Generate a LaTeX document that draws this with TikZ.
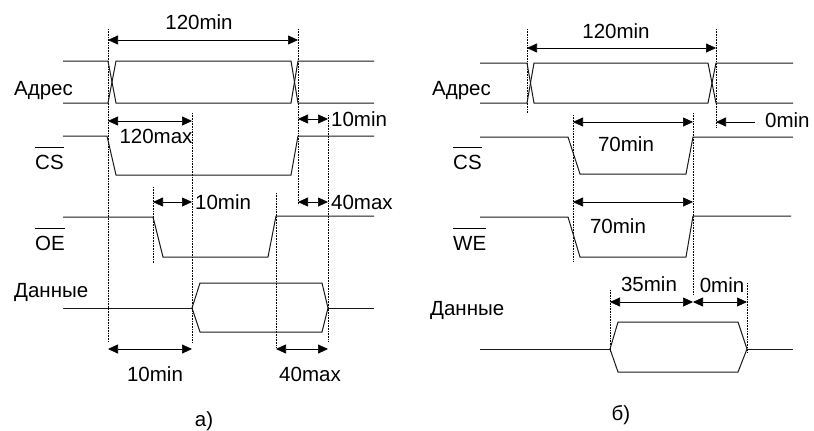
\documentclass[tikz,border=0pt]{standalone}
\usepackage{fontspec}
\setmainfont{Liberation Sans}
\usetikzlibrary{arrows.meta}
\newcommand{\negsig}[1]{\leavevmode\vbox{\hrule height 0.8pt\kern 7pt\hbox{#1}}}

\begin{document}
\begin{tikzpicture}[x=1pt,y=-1pt,
    sig/.style={line width=1pt, draw=black!90},
    guide/.style={densely dotted, line width=0.6pt},
    dim/.style={{Triangle[length=10pt,width=9pt]}-{Triangle[length=10pt,width=9pt]}, line width=0.7pt},
    lbl/.style={font=\fontsize{20.5}{23}\selectfont, inner sep=0pt}]
    \useasboundingbox (0,0) rectangle (814,431);

    % --- a) read cycle
    \draw[guide] (108,29) -- (108,342);
    \draw[guide] (298,29) -- (298,205);
    \draw[guide] (192,113) -- (192,342);
    \draw[guide] (328,115) -- (328,342);
    \draw[guide] (153,187) -- (153,263);
    \draw[guide] (276,193) -- (276,348);

    \draw[sig] (63,61) -- (108,61) -- (116,103) -- (291,103) -- (298,61) -- (374,61);
    \draw[sig] (63,103) -- (108,103) -- (116,61) -- (291,61) -- (298,103) -- (374,103);
    \draw[sig] (63,136) -- (107,136) -- (116,175) -- (291,175) -- (298,136) -- (374,136);
    \draw[sig] (63,217) -- (153,217) -- (163,257) -- (268,257) -- (276,216) -- (374,216);
    \draw[sig] (63,308) -- (192,308);
    \draw[sig] (192,308) -- (200,283) -- (322,283) -- (328,308) -- (322,332) -- (200,332) -- cycle;
    \draw[sig] (328,308) -- (374,308);

    \coordinate (a1) at (108,40);  \coordinate (a2) at (298,40);
    \coordinate (b1) at (108,121); \coordinate (b2) at (192,121);
    \coordinate (c1) at (298,119); \coordinate (c2) at (328,119);
    \coordinate (d1) at (153,202); \coordinate (d2) at (192,202);
    \coordinate (e1) at (298,202); \coordinate (e2) at (328,202);
    \coordinate (f1) at (108,349); \coordinate (f2) at (192,349);
    \coordinate (g1) at (276,349); \coordinate (g2) at (328,349);
    \draw[dim] (a1) -- (a2);
    \draw[dim] (b1) -- (b2);
    \draw[dim] (c1) -- (c2);
    \draw[dim] (d1) -- (d2);
    \draw[dim] (e1) -- (e2);
    \draw[dim] (f1) -- (f2);
    \draw[dim] (g1) -- (g2);

    \node[lbl, anchor=base west] (addrA) at (14,95) {Адрес};
    \node[lbl, anchor=base west] (csA) at (35,169) {\negsig{CS}};
    \node[lbl, anchor=base west] (oeA) at (35,250.5) {\negsig{OE}};
    \node[lbl, anchor=base west] (dataA) at (14,297) {Данные};
    \node[lbl] (tA1) at (199,22) {120min};
    \node[lbl] (tA2) at (156,136) {120max};
    \node[lbl, anchor=west] (tA3) at (331,119) {10min};
    \node[lbl, anchor=west] (tA4) at (195,202.5) {10min};
    \node[lbl, anchor=west] (tA5) at (331,202.5) {40max};
    \node[lbl] (tA6) at (155,374) {10min};
    \node[lbl] (tA7) at (310,374) {40max};
    \node[lbl] (capA) at (204,421.5) {а)};

    % --- b) write cycle
    \draw[guide] (527,29) -- (527,113);
    \draw[guide] (716,29) -- (716,127);
    \draw[guide] (573,115) -- (573,262);
    \draw[guide] (693,113) -- (693,295);
    \draw[guide] (610,290) -- (610,352);
    \draw[guide] (747,283) -- (747,352);

    \draw[sig] (480,63) -- (527,63) -- (534,103) -- (708,103) -- (716,63) -- (793,63);
    \draw[sig] (480,103) -- (527,103) -- (534,63) -- (708,63) -- (716,103) -- (793,103);
    \draw[sig] (480,137) -- (568,137) -- (580,174) -- (686,174) -- (693,137) -- (793,137);
    \draw[sig] (480,217) -- (568,217) -- (580,257) -- (686,257) -- (693,216) -- (791,216);
    \draw[sig] (480,349) -- (610,349);
    \draw[sig] (610,349) -- (618,322) -- (738,322) -- (747,349) -- (738,372) -- (618,372) -- cycle;
    \draw[sig] (747,349) -- (793,349);

    \coordinate (h1) at (527,48);  \coordinate (h2) at (716,48);
    \coordinate (i1) at (573,122); \coordinate (i2) at (693,122);
    \coordinate (j1) at (755,122); \coordinate (j2) at (716,122);
    \coordinate (k1) at (573,202); \coordinate (k2) at (693,202);
    \coordinate (l1) at (610,302); \coordinate (l2) at (693,302);
    \coordinate (m1) at (693,302); \coordinate (m2) at (747,302);
    \draw[dim] (h1) -- (h2);
    \draw[dim] (i1) -- (i2);
    \draw[dim, {Triangle[length=10pt,width=9pt]}-] (j2) -- (j1);
    \draw[dim] (k1) -- (k2);
    \draw[dim] (l1) -- (l2);
    \draw[dim] (m1) -- (m2);

    \node[lbl, anchor=base west] (addrB) at (432,95) {Адрес};
    \node[lbl, anchor=base west] (csB) at (453,169) {\negsig{CS}};
    \node[lbl, anchor=base west] (weB) at (453,250) {\negsig{WE}};
    \node[lbl, anchor=base west] (dataB) at (430,315) {Данные};
    \node[lbl] (tB1) at (616,31) {120min};
    \node[lbl] (tB2) at (626,144) {70min};
    \node[lbl, anchor=west] (tB3) at (765,120) {0min};
    \node[lbl] (tB4) at (618,226) {70min};
    \node[lbl] (tB5) at (649,284) {35min};
    \node[lbl] (tB6) at (722,285) {0min};
    \node[lbl] (capB) at (621,415) {б)};
\end{tikzpicture}
\end{document}
